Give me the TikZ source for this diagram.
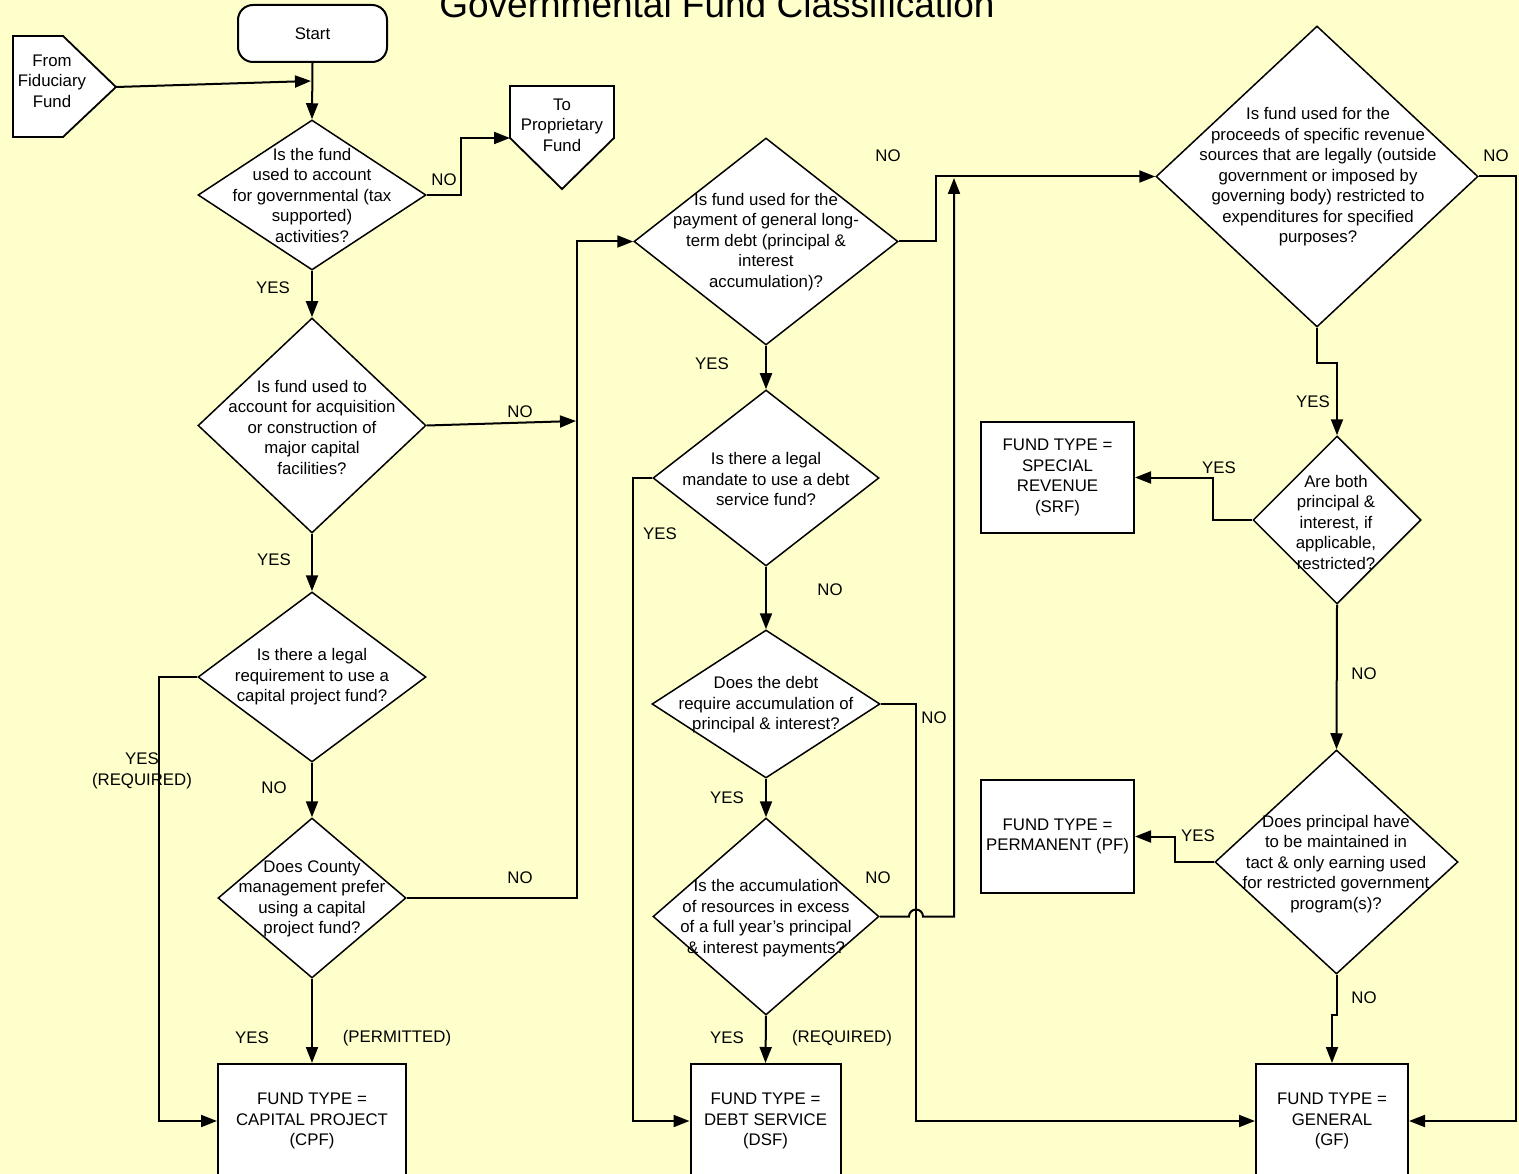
\documentclass[tikz,border=0pt]{standalone}
\usepackage{fontspec}
\setmainfont{Liberation Sans}
\usetikzlibrary{arrows.meta,shapes.geometric}
\definecolor{bgc}{HTML}{FFFFCC}
\begin{document}
\begin{tikzpicture}[x=1pt,y=-1pt,
  conn/.style={line width=2pt, -{Triangle[length=16pt,width=12pt]}},
  dia/.style={shape=diamond, draw, fill=white, line width=1.5pt, inner sep=0pt},
  box/.style={shape=rectangle, draw, fill=white, line width=2pt, inner sep=0pt, align=center, font=\fontsize{16.8}{20.5}\selectfont},
  txt/.style={align=center, inner sep=0pt, font=\fontsize{16.8}{20.5}\selectfont},
  lbl/.style={inner sep=0pt, font=\fontsize{16.8}{20.5}\selectfont}]
\useasboundingbox (0,0) rectangle (1519,1174);
\clip (0,0) rectangle (1519,1174);
\fill[bgc] (0,0) rectangle (1519,1174);

% title
\node[inner sep=0pt, anchor=base, font=\fontsize{37}{40}\selectfont] (title) at (717,18) {Governmental Fund Classification};

% start and off-page connectors
\node[box, rounded corners=15pt, minimum width=149, minimum height=57] (start) at (312.5,33.5) {Start};
\draw[line width=1.8pt, fill=white] (13,36) -- (63,36) -- (116,87) -- (63,137) -- (13,137) -- cycle;
\coordinate (fidtip) at (116,87);
\node[txt] (fid) at (52,81) {From\\Fiduciary\\Fund};
\draw[line width=1.8pt, fill=white] (510,86) -- (614,86) -- (614,138) -- (562,189) -- (510,138) -- cycle;
\coordinate (proin) at (510,138);
\node[txt] (prop) at (562,125) {To\\Proprietary\\Fund};

% decisions
\node[dia, minimum width=228, minimum height=150] (d1) at (312,195) {};
\node[txt] (d1t) at (312,195) {Is the fund\\used to account\\for governmental (tax\\supported)\\activities?};
\node[dia, minimum width=228, minimum height=215] (d2) at (312,425.5) {};
\node[txt] (d2t) at (312,427) {Is fund used to\\account for acquisition\\or construction of\\major capital\\facilities?};
\node[dia, minimum width=228, minimum height=170] (d3) at (312,677) {};
\node[txt] (d3t) at (312,677) {Is there a legal\\requirement to use a\\capital project fund?};
\node[dia, minimum width=188, minimum height=160] (d4) at (312,898) {};
\node[txt] (d4t) at (312,899) {Does County\\management prefer\\using a capital\\project fund?};
\node[dia, minimum width=264, minimum height=207] (d5) at (766,241.5) {};
\node[txt] (d5t) at (766,242) {Is fund used for the\\payment of general long-\\term debt (principal \&\\interest\\accumulation)?};
\node[dia, minimum width=322, minimum height=301] (d6) at (1317,176.5) {};
\node[txt] (d6t) at (1318,177) {Is fund used for the\\proceeds of specific revenue\\sources that are legally (outside\\government or imposed by\\governing body) restricted to\\expenditures for specified\\purposes?};
\node[dia, minimum width=168, minimum height=168] (d7) at (1337,520) {};
\node[txt] (d7t) at (1336,522) {Are both\\principal \&\\interest, if\\applicable,\\restricted?};
\node[dia, minimum width=243, minimum height=224] (d8) at (1336.5,862) {};
\node[txt] (d8t) at (1336,864) {Does principal have\\to be maintained in\\tact \& only earning used\\for restricted government\\program(s)?};
\node[dia, minimum width=226, minimum height=176] (d9) at (766,478) {};
\node[txt] (d9t) at (766,479) {Is there a legal\\mandate to use a debt\\service fund?};
\node[dia, minimum width=228, minimum height=148] (d10) at (766,704) {};
\node[txt] (d10t) at (766,705) {Does the debt\\require accumulation of\\principal \& interest?};
\node[dia, minimum width=226, minimum height=197] (d11) at (766,916.5) {};
\node[txt] (d11t) at (766,918) {Is the accumulation\\of resources in excess\\of a full year's principal\\\& interest payments?};

% result boxes
\node[box, minimum width=188, minimum height=114] (cpf) at (312,1121) {FUND TYPE =\\CAPITAL PROJECT\\(CPF)};
\node[box, minimum width=150, minimum height=114] (dsf) at (765.5,1121) {FUND TYPE =\\DEBT SERVICE\\(DSF)};
\node[box, minimum width=152, minimum height=114] (gf) at (1332,1121) {FUND TYPE =\\GENERAL\\(GF)};
\node[box, minimum width=153, minimum height=111] (srf) at (1057.5,477.5) {FUND TYPE =\\SPECIAL\\REVENUE\\(SRF)};
\node[box, minimum width=153, minimum height=113] (pf) at (1057.5,836.5) {FUND TYPE =\\PERMANENT (PF)};

% junction points on lines
\coordinate (j1) at (311,81);
\coordinate (j2) at (576,421);
\coordinate (j3) at (954,178);

% connectors
\draw[conn] (start.south) -- (d1.north);
\draw[conn] (fidtip) -- (j1);
\draw[conn] (d1.east) -- ++(34,0) |- (proin);
\draw[conn] (d1.south) -- (d2.north);
\draw[conn] (d2.east) -- (j2);
\draw[conn] (d2.south) -- (d3.north);
\draw[conn] (d3.west) -- ++(-38,0) |- (cpf.west);
\draw[conn] (d3.south) -- (d4.north);
\draw[conn] (d4.east) -- (577,898) |- (d5.west);
\draw[conn] (d4.south) -- (cpf.north);
\draw[conn] (d5.east) -- ++(37,0) |- (d6.west);
\draw[conn] (d5.south) -- (d9.north);
\draw[conn] (d9.west) -- ++(-19,0) |- (dsf.west);
\draw[conn] (d9.south) -- (d10.north);
\draw[conn] (d10.east) -- ++(35,0) |- (gf.west);
\draw[conn] (d10.south) -- (d11.north);
\draw[conn] (d11.east) -- (909,916.5) arc (180:360:7) -- (954,916.5) -- (j3);
\draw[conn] (d11.south) -- (dsf.north);
\draw[conn] (d6.east) -- ++(37,0) |- (gf.east);
\draw[conn] (d6.south) -- ++(0,35) -| (d7.north);
\draw[conn] (d7.west) -- ++(-39,0) |- (srf.east);
\draw[conn] (d7.south) -- (d8.north);
\draw[conn] (d8.west) -- ++(-39,0) |- (pf.east);
\draw[conn] (d8.south) -- ++(0,40) -| (gf.north);

% labels
\node[lbl] (l1) at (444,180) {NO};
\node[lbl] (l2) at (273,288) {YES};
\node[lbl] (l3) at (520,412) {NO};
\node[lbl] (l4) at (274,560) {YES};
\node[lbl, align=center] (l5) at (142,771) {YES\\(REQUIRED)};
\node[lbl] (l6) at (274,788) {NO};
\node[lbl] (l7) at (520,878) {NO};
\node[lbl] (l8) at (252,1038) {YES};
\node[lbl] (l9) at (397,1038) {(PERMITTED)};
\node[lbl] (l10) at (888,156) {NO};
\node[lbl] (l11) at (712,364) {YES};
\node[lbl] (l12) at (660,534) {YES};
\node[lbl] (l13) at (830,590) {NO};
\node[lbl] (l14) at (934,718) {NO};
\node[lbl] (l15) at (727,798) {YES};
\node[lbl] (l16) at (878,878) {NO};
\node[lbl] (l17) at (727,1038) {YES};
\node[lbl] (l18) at (842,1038) {(REQUIRED)};
\node[lbl] (l19) at (1496,156) {NO};
\node[lbl] (l20) at (1313,402) {YES};
\node[lbl] (l21) at (1219,468) {YES};
\node[lbl] (l22) at (1364,674) {NO};
\node[lbl] (l23) at (1198,836) {YES};
\node[lbl] (l24) at (1364,998) {NO};
\end{tikzpicture}
\end{document}
